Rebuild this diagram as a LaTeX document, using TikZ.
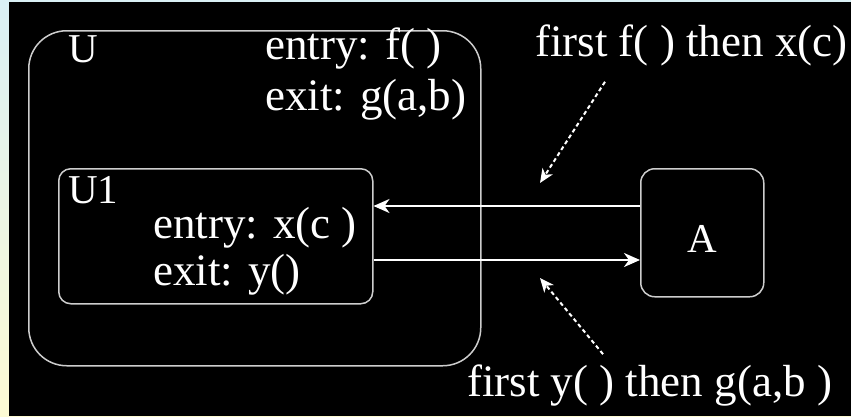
\documentclass[tikz,border=0pt]{standalone}
\usepackage{fontspec}
\setmainfont{Liberation Serif}
\usetikzlibrary{arrows.meta}

\definecolor{edgegray}{RGB}{205,205,205}
\definecolor{paleblue}{RGB}{218,240,245}
\definecolor{paleyellow}{RGB}{253,251,212}

\tikzset{
  statebox/.style={draw=edgegray, line width=1.5pt, inner sep=0pt, anchor=north west},
  lbl/.style={text=white, inner sep=0pt, anchor=base west, font=\fontsize{45}{54}\selectfont},
  sname/.style={lbl, font=\fontsize{41}{50}\selectfont},
  trans/.style={draw=white, line width=2.2pt, -{Stealth[length=16pt,width=14pt,inset=5pt]}},
  note/.style={draw=white, line width=2pt, dash pattern=on 4pt off 3pt,
    -{Stealth[length=14pt,width=12pt,inset=4pt]}}
}

\begin{document}
\begin{tikzpicture}[x=1pt,y=-1pt]
    \useasboundingbox (0,0) rectangle (851,416);
    % slide background
    \fill[top color=paleblue, bottom color=paleyellow] (0,0) rectangle (851,416);
    \fill[black] (9,2) rectangle (851,416);

    % composite state U with substate U1
    \node[statebox, rounded corners=38pt, minimum width=452pt, minimum height=335pt] (u) at (28,30) {};
    \node[statebox, rounded corners=12pt, minimum width=314pt, minimum height=135pt] (u1) at (58,168) {};
    \node[statebox, rounded corners=14pt, minimum width=123pt, minimum height=128pt] (a) at (640,168) {};

    \node[sname] (uname) at (68,62) {U};
    \node[lbl] (uentry) at (265,59) {entry: f( )};
    \node[lbl] (uexit) at (265,110) {exit: g(a,b)};

    \node[sname] (u1name) at (68,203) {U1};
    \node[lbl] (u1entry) at (153,238) {entry: x(c )};
    \node[lbl] (u1exit) at (153,285) {exit: y()};

    \node[sname, anchor=base] (aname) at (702,252) {A};

    % transitions between U1 and A
    \coordinate (intoU1) at (500,206);
    \coordinate (outofU1) at (500,260);
    \draw[trans] (a.west |- intoU1) -- (u1.east |- intoU1);
    \draw[trans] (u1.east |- outofU1) -- (a.west |- outofU1);

    % order of the actions
    \node[lbl] (firstf) at (535,56) {first f( ) then x(c)};
    \node[lbl] (firsty) at (467,396) {first y( ) then g(a,b )};
    \coordinate (ftip) at (540,183);
    \coordinate (ytip) at (540,278);
    \draw[note] (firstf.south -| 605,0) ++(0,16) -- (ftip);
    \draw[note] (firsty.north -| 603,0) ++(0,-10) -- (ytip);
\end{tikzpicture}
\end{document}
